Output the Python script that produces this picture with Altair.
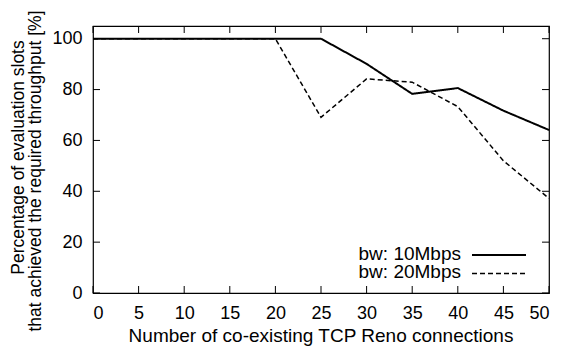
import altair as alt
import pandas as pd

x_vals = [0, 5, 10, 15, 20, 25, 30, 35, 40, 45, 50]
bw10 = [100, 100, 100, 100, 100, 100, 90.1, 78.3, 80.6, 71.7, 64.1]
bw20 = [100, 100, 100, 100, 100, 69.1, 84.2, 82.9, 73.3, 52.0, 37.2]
series = ["bw: 10Mbps", "bw: 20Mbps"]
x_ticks = [0, 5, 10, 15, 20, 25, 30, 35, 40, 45, 50]
y_ticks = [0, 20, 40, 60, 80, 100]
x_title = "Number of co-existing TCP Reno connections"
y_title = ["Percentage of evaluation slots",
           "that achieved the required throughput [%]"]

W, H = 456, 267
FONT = "Liberation Sans"
FS_LABEL = 18
FS_XT = 19
FS_YT = 17.5
FS_LEG = 19
DASHES = [[1, 0], [5, 3]]
WIDTHS = [2, 1.5]

rows = []
for s, vals in zip(series, [bw10, bw20]):
    for x, v in zip(x_vals, vals):
        rows.append({"x": x, "y": v, "s": s})
df = pd.DataFrame(rows)

xs = alt.Scale(domain=[0, 50], nice=False)
ys = alt.Scale(domain=[0, 105], nice=False)

xaxis = alt.Axis(values=x_ticks, ticks=False, domain=False, grid=False,
                 labelPadding=11, labelFontSize=FS_LABEL, labelFont=FONT, labelColor="black",
                 labelOverlap=False, labelBound=False, title=None)
yaxis = alt.Axis(values=y_ticks, ticks=False, domain=False, grid=False,
                 labelPadding=11, labelFontSize=FS_LABEL, labelFont=FONT, labelColor="black",
                 title=None)

dash_scale = alt.Scale(domain=series, range=DASHES)
width_scale = alt.Scale(domain=series, range=WIDTHS)

lines = alt.Chart(df).mark_line(color="black").encode(
    x=alt.X("x:Q", scale=xs, axis=xaxis),
    y=alt.Y("y:Q", scale=ys, axis=yaxis),
    strokeDash=alt.StrokeDash("s:N", scale=dash_scale, legend=None),
    strokeWidth=alt.StrokeWidth("s:N", scale=width_scale, legend=None),
    detail="s:N",
)

xt = pd.DataFrame({"t": x_ticks})
yt = pd.DataFrame({"t": y_ticks})
TL = 7
bt = alt.Chart(xt).mark_rule(color="black").encode(
    x=alt.X("t:Q", scale=xs), y=alt.value(H), y2=alt.value(H - TL))
tt = alt.Chart(xt).mark_rule(color="black").encode(
    x=alt.X("t:Q", scale=xs), y=alt.value(0), y2=alt.value(TL))
lt = alt.Chart(yt).mark_rule(color="black").encode(
    y=alt.Y("t:Q", scale=ys), x=alt.value(0), x2=alt.value(TL))
rt = alt.Chart(yt).mark_rule(color="black").encode(
    y=alt.Y("t:Q", scale=ys), x=alt.value(W), x2=alt.value(W - TL))

one = pd.DataFrame({"a": [0]})

def txt(text, x, y, size, angle=0, align="center"):
    return alt.Chart(one).mark_text(
        text=text, font=FONT, fontSize=size, color="black", align=align,
        baseline="alphabetic", angle=angle,
    ).encode(x=alt.value(x), y=alt.value(y))

xtitle = txt(x_title, W / 2, 316, FS_XT)
ytitle1 = txt(y_title[0], -69, 131.5, FS_YT, angle=270)
ytitle2 = txt(y_title[1], -52, 145, FS_YT, angle=270)

leg_layers = []
for i, (s, ty, ly) in enumerate(zip(series, [234, 252], [229, 247.5])):
    leg_layers.append(txt(s, 368, ty, FS_LEG, align="right"))
    leg_layers.append(
        alt.Chart(one).mark_rule(color="black", strokeDash=DASHES[i],
                                 strokeWidth=WIDTHS[i]).encode(
            x=alt.value(379), x2=alt.value(433), y=alt.value(ly))
    )

chart = alt.layer(lines, bt, tt, lt, rt, xtitle, ytitle1, ytitle2, *leg_layers).properties(
    width=W, height=H,
    autosize=alt.AutoSizeParams(type="none"),
    padding={"left": 85, "top": 18, "right": 5, "bottom": 56},
    background="white",
).configure_view(stroke="black", strokeWidth=1.2)

chart.save("out.html", embed_options={"renderer": "svg", "actions": False})
